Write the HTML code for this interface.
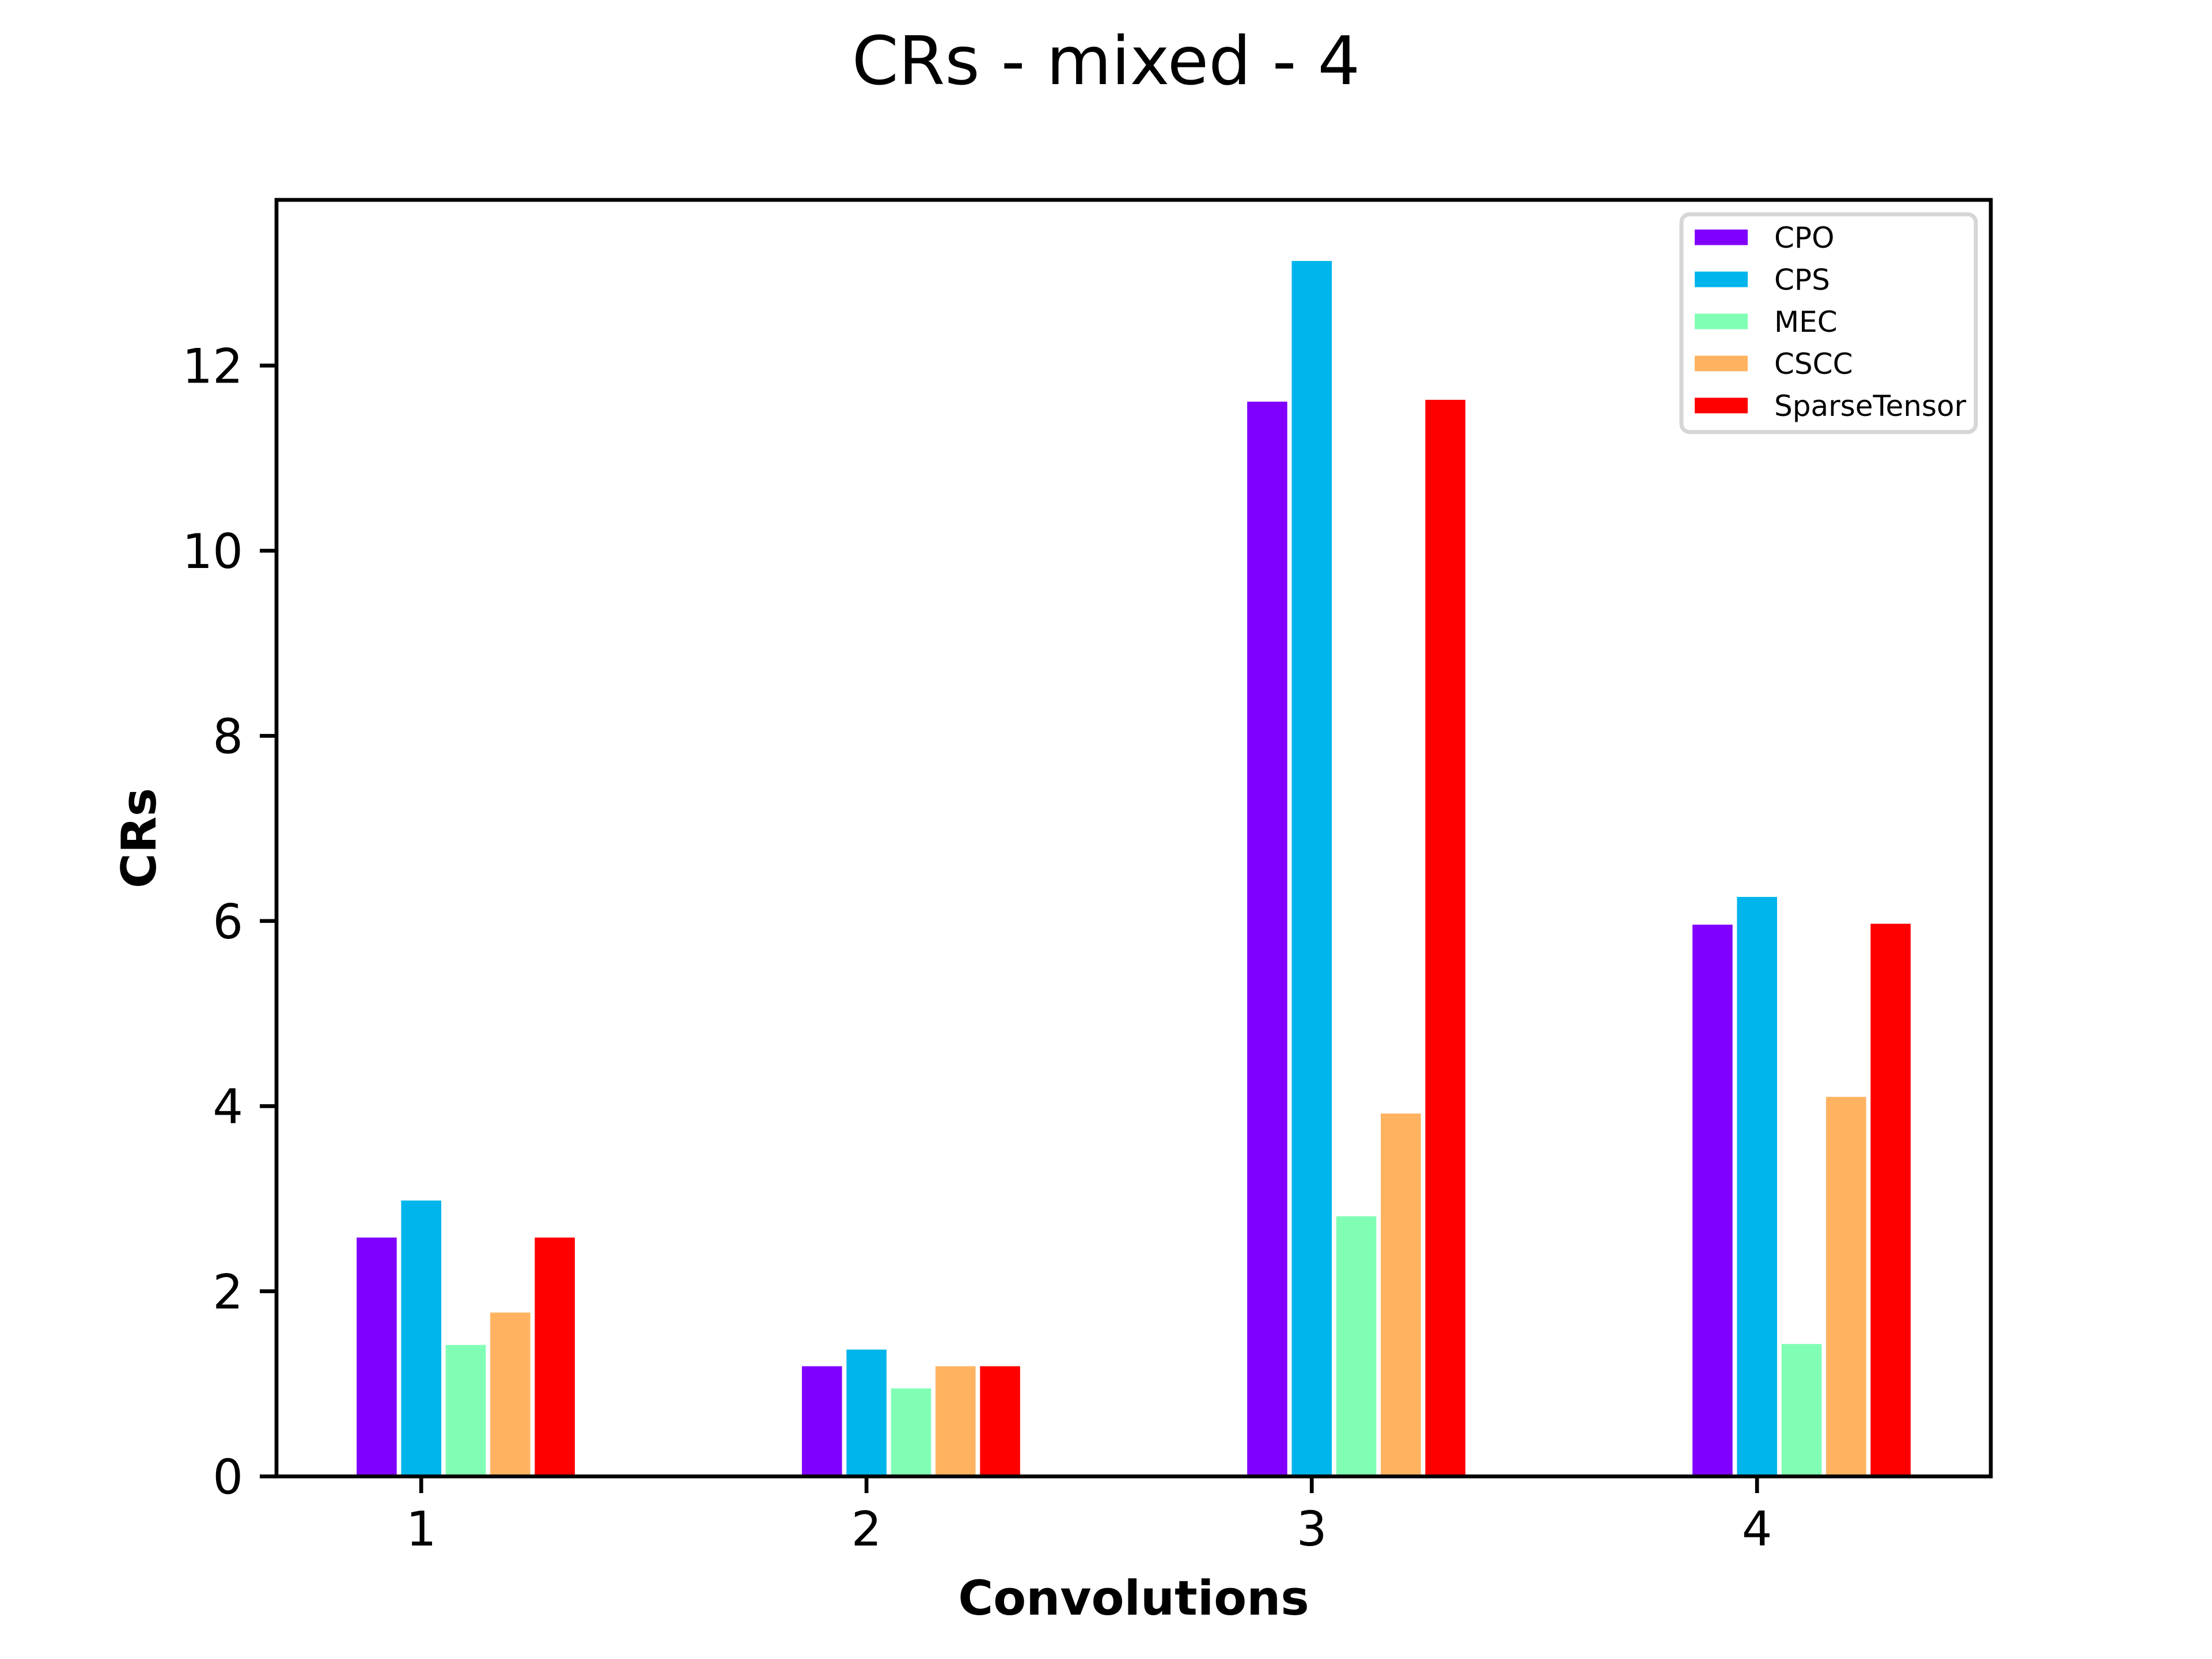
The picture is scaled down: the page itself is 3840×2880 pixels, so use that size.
<!DOCTYPE html>
<html><head><meta charset="utf-8"><style>
html,body{margin:0;padding:0;background:#fff;}
svg{display:block;font-family:"DejaVu Sans","Liberation Sans",sans-serif;}
</style></head><body>
<svg id="chart" xmlns="http://www.w3.org/2000/svg" width="3840" height="2880" viewBox="0 0 3840 2880">
<rect width="3840" height="2880" fill="#fff"/>
<text x="1920" y="146" font-size="116" text-anchor="middle">CRs - mixed - 4</text>
<g id="bars"></g>
<g id="axes"></g>
<text x="1968" y="2803" font-size="83" font-weight="bold" text-anchor="middle">Convolutions</text>
<text transform="translate(270,1455) rotate(-90)" font-size="83" font-weight="bold" text-anchor="middle">CRs</text>
<g id="legend"></g>
</svg>
<script>
const categories = [1, 2, 3, 4];
const seriesNames = ["CPO", "CPS", "MEC", "CSCC", "SparseTensor"];
const seriesColors = ["#8000ff", "#00b5eb", "#80ffb4", "#ffb360", "#ff0000"];
const valsCPO = [2.58, 1.19, 11.61, 5.96];
const valsCPS = [2.98, 1.37, 13.13, 6.26];
const valsMEC = [1.42, 0.95, 2.81, 1.43];
const valsCSCC = [1.77, 1.19, 3.92, 4.10];
const valsSparse = [2.58, 1.19, 11.63, 5.97];
const yTicks = [0, 2, 4, 6, 8, 10, 12];

const allSeries = [valsCPO, valsCPS, valsMEC, valsCSCC, valsSparse];
const NS = "http://www.w3.org/2000/svg";
const L = 480, R = 3456, T = 347, B = 2563;
const xMin = 0.675, xMax = 4.525, yMax = 13.79;
const xs = v => L + (v - xMin) / (xMax - xMin) * (R - L);
const ys = v => B - v / yMax * (B - T);
function mk(tag, attrs, parent){const e=document.createElementNS(NS,tag);for(const k in attrs)e.setAttribute(k,attrs[k]);parent.appendChild(e);return e;}

const barsG = document.getElementById('bars');
allSeries.forEach((vals, si) => {
  vals.forEach((v, ci) => {
    const cx = categories[ci] + (si - 1) * 0.1;
    const x0 = xs(cx - 0.045), x1 = xs(cx + 0.045);
    const r = mk('rect', {x: x0, y: ys(v), width: x1 - x0, height: ys(0) - ys(v), fill: seriesColors[si]}, barsG);
    
    
  });
});

const axG = document.getElementById('axes');
const frame = mk('rect', {x: L, y: T, width: R - L, height: B - T, fill: 'none', stroke: '#000', 'stroke-width': 6.7}, axG);


categories.forEach(c => {
  const x = xs(c);
  mk('line', {x1: x, x2: x, y1: B, y2: B + 29, stroke: '#000', 'stroke-width': 6.7}, axG);
  const t = mk('text', {x: x, y: B + 29 + 29 + 62, 'font-size': 83, 'text-anchor': 'middle'}, axG);
  t.textContent = c;
  
  
});
yTicks.forEach(v => {
  const y = ys(v);
  mk('line', {x1: L - 29, x2: L, y1: y, y2: y, stroke: '#000', 'stroke-width': 6.7}, axG);
  const t = mk('text', {x: L - 29 - 29, y: y + 30, 'font-size': 83, 'text-anchor': 'end'}, axG);
  t.textContent = v;
  
  
});

const lg = document.getElementById('legend');
mk('rect', {x: 2919, y: 372, width: 511, height: 378, rx: 14, fill: '#fff', stroke: '#d6d6d6', 'stroke-width': 7}, lg);
seriesNames.forEach((n, i) => {
  const cy = 412 + i * 73;
  const h = mk('rect', {x: 2942, y: cy - 13.5, width: 92, height: 27, fill: seriesColors[i]}, lg);
  
  
  const t = mk('text', {x: 3080, y: cy + 18, 'font-size': 50}, lg);
  t.textContent = n;
  
  
});
</script>
</body></html>
